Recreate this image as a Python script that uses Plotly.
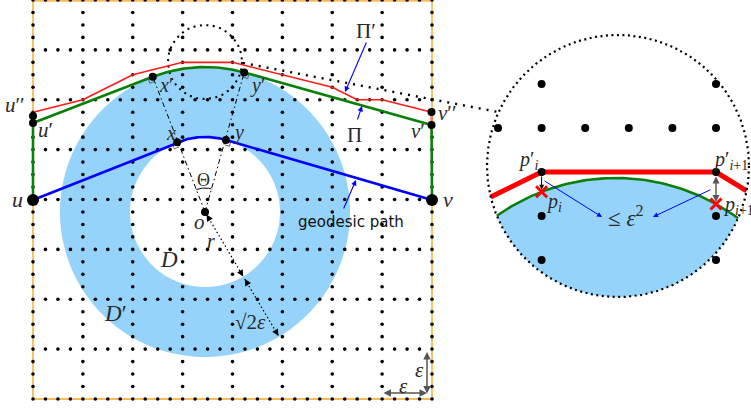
import numpy as np
import plotly.graph_objects as go

# ---------------- geometry (pixel units, y grows downward) ----------------
# left panel grid: 8 x 8 cells, each cell split into 4 dot steps
grid_origin = (33.0, 0.0)
grid_size = 399.0
n_cells = 8
n_sub = 4

# annulus D' around the obstacle disk D
o_center = (205.0, 212.0)
r_inner = 75.0
r_outer = 145.0

# terminals
u_pt = (33.0, 200.0)
v_pt = (432.0, 200.0)
u1_pt = (33.0, 123.0)     # u'
u2_pt = (33.0, 116.0)     # u''
v1_pt = (431.5, 125.0)    # v'
v2_pt = (431.5, 112.0)    # v''

# grid path Pi' (in dot-step units of the grid)
pi_prime_i = [0, 4, 8, 12, 16, 24, 26, 28, 32]
pi_prime_j = [9, 8, 6, 5, 5, 7, 8, 8, 9]

# small magnified region and the lens showing it
small_center = (205.0, 62.0)
small_r = 37.0
link_start = (243.0, 63.0)
link_end = (498.0, 112.0)
lens_center = (618.0, 166.0)
lens_r = 131.0

# inside the lens: magnified grid dots, boundary arc, snapped path
lens_dot_x0 = 498.0
lens_dot_step_x = 43.6
lens_rows = [84.0, 128.0, 172.0, 216.0, 260.0]
lens_cols = 6
arc_center = (615.7, 384.1)
arc_r = 206.1
p_prime_cols = [1, 5]          # columns of p'_i and p'_{i+1}
p_prime_row = 172.0
red_left_dir = (-51.0, 25.0)
red_right_dir = (34.0, 21.0)

# radial measurement direction (o -> r -> sqrt(2) eps)
radial_dir = (0.51, 0.86)

# ---------------- helpers ----------------
def ang_pts(c, r, a0, a1, n=120):
    t = np.linspace(a0, a1, n)
    return c[0] + r * np.cos(t), c[1] + r * np.sin(t)

def tangent_angle(p, c, r, sign):
    w = np.array(p) - np.array(c)
    d = np.hypot(*w)
    return np.arctan2(w[1], w[0]) + sign * np.arccos(r / d)

def circle_intersections(c1, r1, c2, r2):
    c1 = np.array(c1); c2 = np.array(c2)
    d = np.linalg.norm(c2 - c1)
    a = (d**2 + r1**2 - r2**2) / (2 * d)
    h = np.sqrt(r1**2 - a**2)
    e = (c2 - c1) / d
    base = c1 + a * e
    perp = np.array([-e[1], e[0]])
    p1, p2 = base + h * perp, base - h * perp
    return (p1, p2) if p1[0] < p2[0] else (p2, p1)

def ray_circle(p, dvec, c, r):
    p = np.array(p); dvec = np.array(dvec) / np.hypot(*dvec); c = np.array(c)
    f = p - c
    b = np.dot(f, dvec); cc = np.dot(f, f) - r**2
    t = -b + np.sqrt(b * b - cc)
    return p + t * dvec

def path_str(xs, ys):
    return "M " + " L ".join(f"{x:.2f},{y:.2f}" for x, y in zip(xs, ys)) + " Z"

fig = go.Figure()
shapes = []
ann = []

# ---------------- annulus fill ----------------
ox, oy = ang_pts(o_center, r_outer, 0, 2 * np.pi, 240)
ix, iy = ang_pts(o_center, r_inner, 0, 2 * np.pi, 200)
shapes.append(dict(type="path", xref="x", yref="y", layer="below",
                   path=path_str(ox, oy) + " " + path_str(ix, iy),
                   fillrule="evenodd", fillcolor="#96d3fa", line=dict(width=0)))

# ---------------- lens fill (part of D' inside the lens) ----------------
iL, iR = circle_intersections(lens_center, lens_r, arc_center, arc_r)
gaL = np.arctan2(iL[1] - arc_center[1], iL[0] - arc_center[0])
gaR = np.arctan2(iR[1] - arc_center[1], iR[0] - arc_center[0])
gx, gy = ang_pts(arc_center, arc_r, gaL, gaR, 120)
laR = np.arctan2(iR[1] - lens_center[1], iR[0] - lens_center[0])
laL = np.arctan2(iL[1] - lens_center[1], iL[0] - lens_center[0])
lx, ly = ang_pts(lens_center, lens_r, laR, laL, 120)
shapes.append(dict(type="path", xref="x", yref="y", layer="below",
                   path=path_str(np.r_[gx, lx], np.r_[gy, ly]),
                   fillcolor="#96d3fa", line=dict(width=0)))

# ---------------- frame ----------------
gx0, gy0 = grid_origin
cell = grid_size / n_cells
step = cell / n_sub
frame_col = "rgb(247,188,90)"
for xa, ya, xb, yb in [(gx0, gy0, gx0, gy0 + grid_size),
                       (gx0, gy0 + grid_size, gx0 + grid_size, gy0 + grid_size),
                       (gx0 + grid_size, gy0, gx0 + grid_size, gy0 + grid_size),
                       (gx0, gy0 + 0.8, gx0 + grid_size, gy0 + 0.8)]:
    shapes.append(dict(type="line", xref="x", yref="y", layer="below",
                       x0=xa, y0=ya, x1=xb, y1=yb, line=dict(color=frame_col, width=1.8)))

# ---------------- grid dots ----------------
pts = set()
for i in range(n_cells + 1):
    for j in range(n_cells * n_sub + 1):
        pts.add((round(gx0 + i * cell, 2), round(gy0 + j * step, 2)))
        pts.add((round(gx0 + j * step, 2), round(gy0 + i * cell, 2)))
pts = sorted(pts)
fig.add_trace(go.Scatter(x=[p[0] for p in pts], y=[p[1] for p in pts], mode="markers",
                         marker=dict(size=3.6, color="black"), hoverinfo="skip"))

# ---------------- small dotted circle & link to lens ----------------
sx, sy = ang_pts(small_center, small_r, 0, 2 * np.pi, 200)
fig.add_trace(go.Scatter(x=sx, y=sy, mode="lines",
                         line=dict(color="black", width=2, dash="2px,4.5px"), hoverinfo="skip"))
fig.add_trace(go.Scatter(x=[link_start[0], link_end[0]], y=[link_start[1], link_end[1]], mode="lines",
                         line=dict(color="black", width=2.4, dash="2px,6px"), hoverinfo="skip"))

# ---------------- radii through the tangent points ----------------
ax_u = tangent_angle(u_pt, o_center, r_inner, +1)
ax_v = tangent_angle(v_pt, o_center, r_inner, -1)
ag_u = tangent_angle(u1_pt, o_center, r_outer, +1)
ag_v = tangent_angle(v1_pt, o_center, r_outer, -1)
xp = (o_center[0] + r_outer * np.cos(ag_u), o_center[1] + r_outer * np.sin(ag_u))
yp = (o_center[0] + r_outer * np.cos(ag_v), o_center[1] + r_outer * np.sin(ag_v))
xq = (o_center[0] + r_inner * np.cos(ax_u), o_center[1] + r_inner * np.sin(ax_u))
yq = (o_center[0] + r_inner * np.cos(ax_v), o_center[1] + r_inner * np.sin(ax_v))
for p in (xp, yp):
    fig.add_trace(go.Scatter(x=[o_center[0], p[0]], y=[o_center[1], p[1]], mode="lines",
                             line=dict(color="black", width=1, dash="5px,3px,1.5px,3px"),
                             hoverinfo="skip"))

# right-angle marks
def right_mark(p, toward_path, s=5.0):
    p = np.array(p)
    rin = np.array(o_center) - p; rin /= np.linalg.norm(rin)
    tp = np.array(toward_path) - p; tp /= np.linalg.norm(tp)
    q = [p + s * rin, p + s * rin + s * tp, p + s * tp]
    fig.add_trace(go.Scatter(x=[q[0][0], q[1][0], q[2][0]], y=[q[0][1], q[1][1], q[2][1]],
                             mode="lines", line=dict(color="#444", width=0.8), hoverinfo="skip"))
right_mark(xp, u1_pt); right_mark(yp, v1_pt); right_mark(xq, u_pt); right_mark(yq, v_pt)

# angle Theta
tx, ty = ang_pts(o_center, 24, ag_u, ag_v, 40)
fig.add_trace(go.Scatter(x=tx, y=ty, mode="lines", line=dict(color="black", width=1), hoverinfo="skip"))

# r and sqrt(2) eps measurements
def radial(t):
    return o_center[0] + t * radial_dir[0], o_center[1] + t * radial_dir[1]
for t0, t1 in [(3, r_inner), (r_inner + 3, r_outer - 1)]:
    a, b = radial(t0), radial(t1)
    fig.add_trace(go.Scatter(x=[a[0], b[0]], y=[a[1], b[1]], mode="lines",
                             line=dict(color="black", width=1.2, dash="1.5px,2.5px"), hoverinfo="skip"))
    for tip, tail in [(a, radial(t0 + 7)), (b, radial(t1 - 7))]:
        ann.append(dict(x=tip[0], y=tip[1], ax=tail[0], ay=tail[1], xref="x", yref="y",
                        axref="x", ayref="y", text="", showarrow=True, arrowhead=2,
                        arrowsize=1.1, arrowwidth=1.2, arrowcolor="black"))

# ---------------- paths ----------------
# Pi': grid path (red)
rx = [gx0 + i * step for i in pi_prime_i]
ry = [gy0 + j * step for j in pi_prime_j]
fig.add_trace(go.Scatter(x=rx, y=ry, mode="lines", line=dict(color="#ff1a1a", width=1.6), hoverinfo="skip"))
fig.add_trace(go.Scatter(x=[v2_pt[0], v1_pt[0]], y=[v2_pt[1], v1_pt[1]], mode="lines",
                         line=dict(color="rgba(255,60,40,0.45)", width=3), hoverinfo="skip"))

# Pi: tangent path around the outer circle (green)
ax_, ay_ = ang_pts(o_center, r_outer, ag_u, ag_v, 80)
fig.add_trace(go.Scatter(x=np.r_[u_pt[0], u1_pt[0], ax_, v1_pt[0], v_pt[0]],
                         y=np.r_[u_pt[1], u1_pt[1], ay_, v1_pt[1], v_pt[1]], mode="lines",
                         line=dict(color="#0a800a", width=2.6), hoverinfo="skip"))

# geodesic path around the inner circle (blue)
bx, by = ang_pts(o_center, r_inner, ax_u, ax_v, 60)
fig.add_trace(go.Scatter(x=np.r_[u_pt[0], bx, v_pt[0]], y=np.r_[u_pt[1], by, v_pt[1]], mode="lines",
                         line=dict(color="#0000ff", width=2.6), hoverinfo="skip"))

# key point dots
fig.add_trace(go.Scatter(x=[u_pt[0], v_pt[0]], y=[u_pt[1], v_pt[1]], mode="markers",
                         marker=dict(size=12, color="black"), hoverinfo="skip"))
fig.add_trace(go.Scatter(x=[u1_pt[0], u2_pt[0], v1_pt[0], v2_pt[0], xp[0], yp[0], xq[0], yq[0], o_center[0]],
                         y=[u1_pt[1], u2_pt[1], v1_pt[1], v2_pt[1], xp[1], yp[1], xq[1], yq[1], o_center[1]],
                         mode="markers", marker=dict(size=8, color="black"), hoverinfo="skip"))

# ---------------- lens content ----------------
fig.add_trace(go.Scatter(x=gx, y=gy, mode="lines", line=dict(color="#0a800a", width=2.6), hoverinfo="skip"))
col_x = [lens_dot_x0 + k * lens_dot_step_x for k in range(lens_cols)]
lx_d, ly_d = [], []
for k, cx in enumerate(col_x):
    for ry_ in lens_rows:
        if ry_ == lens_rows[1] or k in p_prime_cols:
            if ry_ != p_prime_row:
                lx_d.append(cx); ly_d.append(ry_)
fig.add_trace(go.Scatter(x=lx_d, y=ly_d, mode="markers", marker=dict(size=8, color="black"), hoverinfo="skip"))

pA = (col_x[p_prime_cols[0]], p_prime_row)
pB = (col_x[p_prime_cols[1]], p_prime_row)
eL = ray_circle(pA, red_left_dir, lens_center, lens_r)
eR = ray_circle(pB, red_right_dir, lens_center, lens_r)
fig.add_trace(go.Scatter(x=[eL[0], pA[0], pB[0], eR[0]], y=[eL[1], pA[1], pB[1], eR[1]], mode="lines",
                         line=dict(color="#ff0000", width=5), hoverinfo="skip"))
fig.add_trace(go.Scatter(x=[pA[0], pB[0]], y=[pA[1], pB[1]], mode="markers",
                         marker=dict(size=8, color="black"), hoverinfo="skip"))

def arc_y(x):
    return arc_center[1] - np.sqrt(arc_r**2 - (x - arc_center[0])**2)
qA = (pA[0], arc_y(pA[0])); qB = (pB[0], arc_y(pB[0]))
fig.add_trace(go.Scatter(x=[qA[0], qB[0]], y=[qA[1], qB[1]], mode="markers",
                         marker=dict(symbol="x-thin", size=11, line=dict(color="#ff0000", width=3)),
                         hoverinfo="skip"))

# lens border
cx_, cy_ = ang_pts(lens_center, lens_r, 0, 2 * np.pi, 300)
fig.add_trace(go.Scatter(x=cx_, y=cy_, mode="lines",
                         line=dict(color="black", width=2.2, dash="2px,3.5px"), hoverinfo="skip"))

# ---------------- arrows ----------------
def arrow(tip, tail, color, width=1.0, both=False, head=2, size=1.0):
    ann.append(dict(x=tip[0], y=tip[1], ax=tail[0], ay=tail[1], xref="x", yref="y",
                    axref="x", ayref="y", text="", showarrow=True, arrowhead=head,
                    startarrowhead=head, arrowside="end+start" if both else "end",
                    arrowsize=size, startarrowsize=size,
                    arrowwidth=width, arrowcolor=color))

arrow((345, 92), (367, 41), "#0000ff", 1.1)
arrow((362, 106), (357, 121), "#0000ff", 1.1)
arrow((356, 180), (343, 210), "#0000ff", 1.1)
arrow((pA[0], qA[1] - 2), (pA[0], pA[1] + 3), "black", 1.0)
arrow((pB[0], qB[1] - 2), (pB[0], pB[1] + 3), "#555", 1.4, both=True)
arrow((602, 217), (543, 180), "#0000ff", 1.0)
arrow((653, 217), (712, 189), "#0000ff", 1.0)
arrow((427, 393), (382, 393), "#555", 1.5, both=True)
arrow((427, 352), (427, 395), "#555", 1.5, both=True)

# ---------------- labels ----------------
serif = "Liberation Serif"
labels = [
    ("<i>u</i>", 17, 199, 22), ("<i>v</i>", 448, 199, 22),
    ("<i>u</i>′′", 15, 105, 21), ("<i>u</i>′", 45, 130, 21),
    ("<i>v</i>′′", 447, 113, 21), ("<i>v</i>′", 418, 131, 21),
    ("<i>x</i>′", 166, 85, 20), ("<i>y</i>′", 257, 85, 20),
    ("<i>x</i>", 171, 133, 20), ("<i>y</i>", 238, 132, 20),
    ("Θ", 203, 180, 18), ("<i>o</i>", 199, 222, 21), ("<i>r</i>", 211, 241, 20),
    ("<i>D</i>", 169, 259, 23), ("<i>D</i>′", 115, 313, 23),
    ("√2<i>ε</i>", 250, 322, 21),
    ("Π′", 366, 31, 21), ("Π", 354, 135, 21),
    ("<i>ε</i>", 403, 386, 21), ("<i>ε</i>", 419, 370, 21),
    ("<i>p</i>′<sub><i>i</i></sub>", 528, 160, 20),
    ("<i>p</i>′<sub><i>i</i>+1</sub>", 730, 160, 20),
    ("<i>p</i><sub><i>i</i></sub>", 554, 202, 20),
    ("<i>p</i><sub><i>i</i>+1</sub>", 738, 205, 20),
    ("≤ <i>ε</i><sup>2</sup>", 626, 216, 23),
]
for t, x, y, s in labels:
    ann.append(dict(x=x, y=y, xref="x", yref="y", text=t, showarrow=False,
                    font=dict(family=serif, size=s, color="#2a2a2a"),
                    xanchor="center", yanchor="middle"))
ann.append(dict(x=351, y=222, xref="x", yref="y", text="geodesic path", showarrow=False,
                font=dict(family="DejaVu Sans", size=15, color="#111"),
                xanchor="center", yanchor="middle"))

fig.update_layout(
    width=751, height=408, margin=dict(l=0, r=0, t=0, b=0),
    paper_bgcolor="white", plot_bgcolor="white", showlegend=False,
    xaxis=dict(range=[0, 751], visible=False, fixedrange=True),
    yaxis=dict(range=[408, 0], visible=False, fixedrange=True),
    shapes=shapes, annotations=ann,
)
fig.write_html("out.html")
